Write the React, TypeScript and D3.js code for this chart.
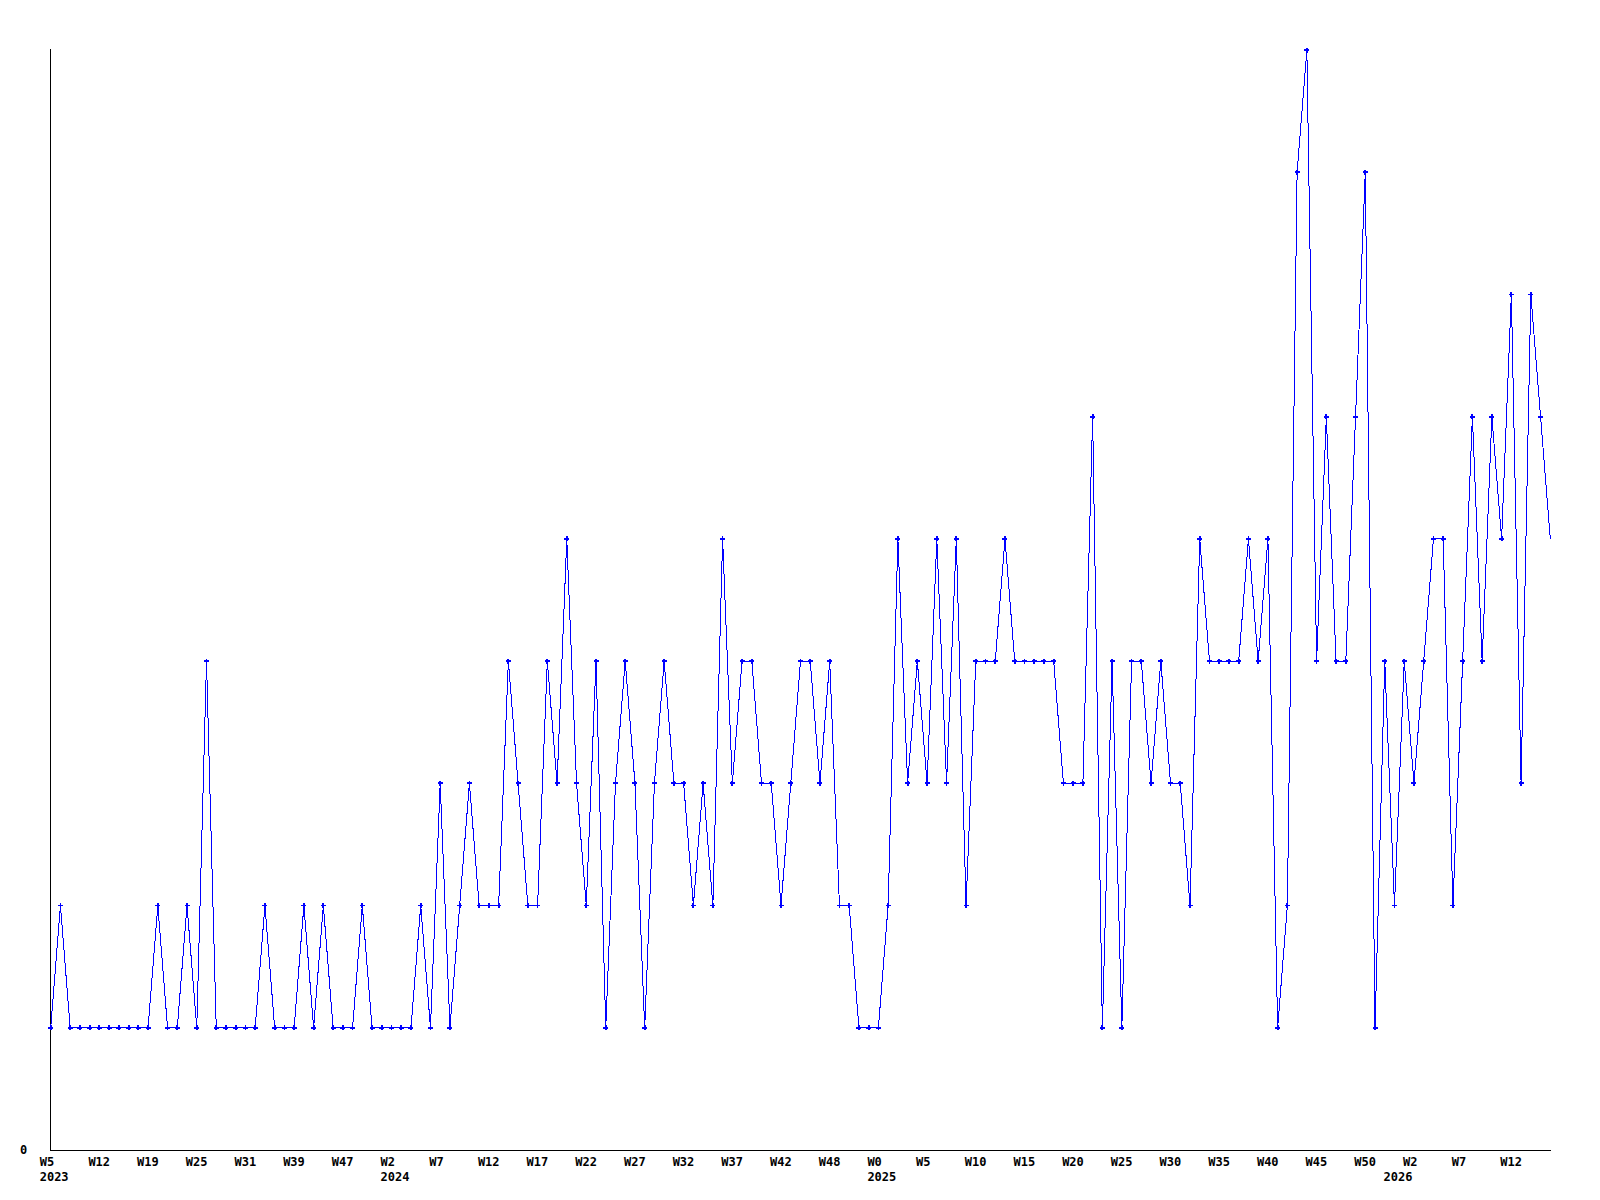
import React from "react";
import * as d3 from "d3";

const values: number[] = [
  1, 2, 1, 1, 1, 1, 1, 1, 1, 1,
  1, 2, 1, 1, 2, 1, 4, 1, 1, 1,
  1, 1, 2, 1, 1, 1, 2, 1, 2, 1,
  1, 1, 2, 1, 1, 1, 1, 1, 2, 1,
  3, 1, 2, 3, 2, 2, 2, 4, 3, 2,
  2, 4, 3, 5, 3, 2, 4, 1, 3, 4,
  3, 1, 3, 4, 3, 3, 2, 3, 2, 5,
  3, 4, 4, 3, 3, 2, 3, 4, 4, 3,
  4, 2, 2, 1, 1, 1, 2, 5, 3, 4,
  3, 5, 3, 5, 2, 4, 4, 4, 5, 4,
  4, 4, 4, 4, 3, 3, 3, 6, 1, 4,
  1, 4, 4, 3, 4, 3, 3, 2, 5, 4,
  4, 4, 4, 5, 4, 5, 1, 2, 8, 9,
  4, 6, 4, 4, 6, 8, 1, 4, 2, 4,
  3, 4, 5, 5, 2, 4, 6, 4, 6, 5,
  7, 3, 7, 6, 5,
];

const weekTickIndex: number[] = [0, 5, 10, 15, 20, 25, 30, 35, 40, 45, 50, 55, 60, 65, 70, 75, 80, 85, 90, 95, 100, 105, 110, 115, 120, 125, 130, 135, 140, 145, 150];
const weekTickLabels: string[] = ["W5", "W12", "W19", "W25", "W31", "W39", "W47", "W2", "W7", "W12", "W17", "W22", "W27", "W32", "W37", "W42", "W48", "W0", "W5", "W10", "W15", "W20", "W25", "W30", "W35", "W40", "W45", "W50", "W2", "W7", "W12"];
const yearTickIndex: number[] = [0, 35, 85, 138];
const yearTickLabels: string[] = ["2023", "2024", "2025", "2026"];
const yTickValues: number[] = [0];

export default function App() {
  const x = d3.scaleLinear().domain([0, values.length - 1]).range([50.7, 1550.3]);
  const y = d3.scaleLinear().domain([0, 9]).range([1150, 50]);
  const line = d3.line<number>().x((_, i) => x(i)).y((d) => y(d));
  const font = "'DejaVu Sans Mono', monospace";
  return (
    <svg width={1600} height={1200} style={{ position: "absolute", left: 0, top: 0, background: "#fff" }}>
      <rect x={0} y={0} width={1600} height={1200} fill="#fff" />
      <line x1={50.5} y1={49} x2={50.5} y2={1150} stroke="#000" strokeWidth={1} shapeRendering="crispEdges" />
      <line x1={50} y1={1150.5} x2={1551} y2={1150.5} stroke="#000" strokeWidth={1} shapeRendering="crispEdges" />
      <path d={line(values) || ""} fill="none" stroke="#0000ff" strokeWidth={1} shapeRendering="crispEdges" />
      {values.slice(0, values.length - 1).map((v, i) => (
        <path
          key={i}
          d={`M${x(i) - 2.5},${y(v)}H${x(i) + 2.5}M${x(i)},${y(v) - 2.5}V${y(v) + 2.5}`}
          stroke="#0000ff"
          strokeWidth={1.8}
          shapeRendering="crispEdges"
        />
      ))}
      {yTickValues.map((t) => (
        <text key={t} x={20} y={y(t) + 4} fontFamily={font} fontWeight="bold" fontSize={12} fill="#000">
          {t}
        </text>
      ))}
      {weekTickIndex.map((idx, k) => (
        <text key={"w" + k} x={x(idx) - 11} y={1166} fontFamily={font} fontWeight="bold" fontSize={12} fill="#000">
          {weekTickLabels[k]}
        </text>
      ))}
      {yearTickIndex.map((idx, k) => (
        <text key={"y" + k} x={x(idx) - 11} y={1181} fontFamily={font} fontWeight="bold" fontSize={12} fill="#000">
          {yearTickLabels[k]}
        </text>
      ))}
    </svg>
  );
}
